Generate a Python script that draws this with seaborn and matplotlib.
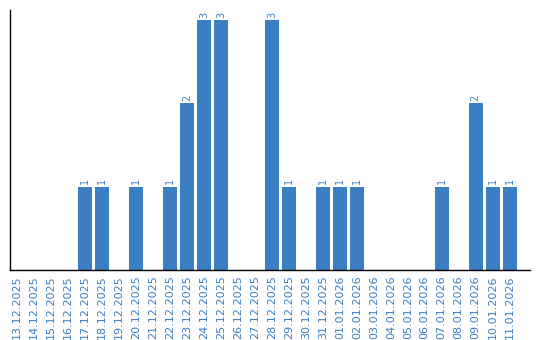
import matplotlib
matplotlib.use("Agg")
import matplotlib.pyplot as plt
import seaborn as sns
import pandas as pd

dates = ["13.12.2025", "14.12.2025", "15.12.2025", "16.12.2025", "17.12.2025",
         "18.12.2025", "19.12.2025", "20.12.2025", "21.12.2025", "22.12.2025",
         "23.12.2025", "24.12.2025", "25.12.2025", "26.12.2025", "27.12.2025",
         "28.12.2025", "29.12.2025", "30.12.2025", "31.12.2025", "01.01.2026",
         "02.01.2026", "03.01.2026", "04.01.2026", "05.01.2026", "06.01.2026",
         "07.01.2026", "08.01.2026", "09.01.2026", "10.01.2026", "11.01.2026"]
counts = [0, 0, 0, 0, 1, 1, 0, 1, 0, 1, 2, 3, 3, 0, 0, 3, 1, 0, 1, 1, 1,
          0, 0, 0, 0, 1, 0, 2, 1, 1]

color = "#3a7fc4"
df = pd.DataFrame({"date": dates, "count": counts})

sns.set_style("white")
fig = plt.figure(figsize=(5.4, 3.4), dpi=100)
ax = fig.add_axes([10/540, 70/340, 520/540, 260/340])
sns.barplot(data=df, x="date", y="count", color=color, width=0.82,
            saturation=1, linewidth=0, ax=ax)

for i, v in enumerate(counts):
    if v > 0:
        ax.text(i, v + 0.03, str(v), rotation=90, ha="center", va="bottom",
                fontsize=7, color=color)

ax.set_xlim(-0.43, 30.2)
ax.set_ylim(0, 3.12)
ax.set_yticks([])
ax.set_xlabel("")
ax.set_ylabel("")
ax.tick_params(axis="x", length=0, labelsize=8, labelcolor=color, rotation=90, pad=4)
for lbl in ax.get_xticklabels():
    lbl.set_va("top")
for s in ["top", "right"]:
    ax.spines[s].set_visible(False)
for s in ["left", "bottom"]:
    ax.spines[s].set_color("black")
    ax.spines[s].set_linewidth(1.0)

fig.savefig("out.png", dpi=100)
